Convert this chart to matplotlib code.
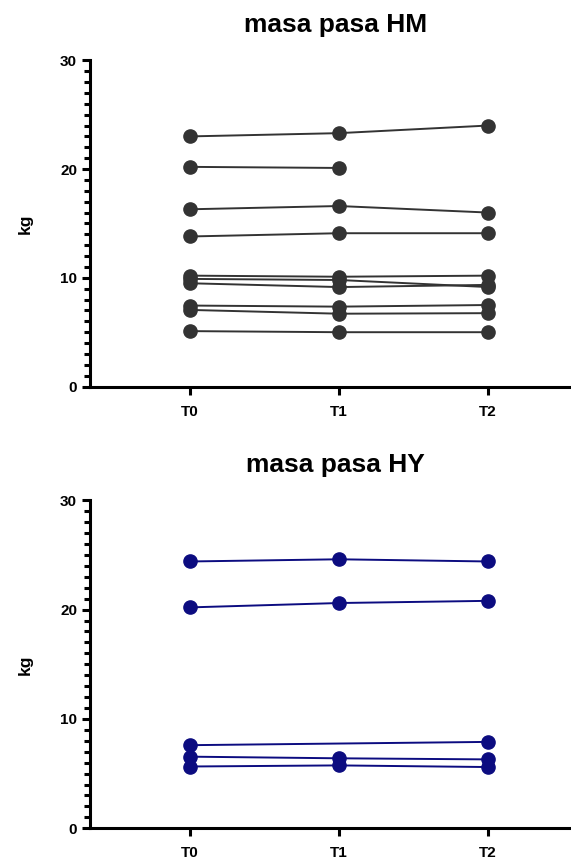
import numpy as np
import matplotlib
matplotlib.use('Agg')
import matplotlib.pyplot as plt
from matplotlib.ticker import MultipleLocator

plt.rcParams['font.family'] = ['Liberation Sans', 'DejaVu Sans']
plt.rcParams['font.weight'] = 'bold'

times = ['T0', 'T1', 'T2']

# masa pasa HM (kg), one list per subject, nan = no measurement
hm_series = [
    [23.0, 23.3, 24.0],
    [20.2, 20.1, np.nan],
    [16.3, 16.6, 16.0],
    [13.8, 14.1, 14.1],
    [10.2, 10.1, 10.2],
    [9.9, 9.8, 9.15],
    [9.5, 9.15, 9.35],
    [7.45, 7.35, 7.5],
    [7.05, 6.7, 6.75],
    [5.1, 5.0, 5.0],
]

# masa pasa HY (kg)
hy_series = [
    [24.4, 24.6, 24.4],
    [20.2, 20.6, 20.8],
    [7.6, np.nan, 7.9],
    [6.55, 6.4, 6.3],
    [5.65, 5.75, 5.6],
]

fig = plt.figure(figsize=(5.71, 8.61), dpi=100)
ax1 = fig.add_axes([0.157, 0.551, 0.86, 0.379])
ax2 = fig.add_axes([0.157, 0.038, 0.86, 0.381])


def draw(ax, series, color, title):
    x = np.arange(len(times))
    for s in series:
        s = np.array(s, dtype=float)
        ok = ~np.isnan(s)
        ax.plot(x[ok], s[ok], '-o', color=color, lw=1.4, ms=9.5, clip_on=False)
    ax.set_xlim(-0.67, 2.62)
    ax.set_ylim(0, 30)
    ax.set_xticks(x)
    ax.set_xticklabels(times)
    ax.yaxis.set_major_locator(MultipleLocator(10))
    ax.yaxis.set_minor_locator(MultipleLocator(1))
    for side in ['top', 'right']:
        ax.spines[side].set_visible(False)
    for side in ['left', 'bottom']:
        ax.spines[side].set_linewidth(2.2)
    ax.tick_params(axis='both', which='major', width=2.2, length=6,
                   labelsize=11, pad=3)
    ax.tick_params(axis='y', which='minor', width=2.2, length=4.5)
    ax.tick_params(axis='x', which='major', pad=7)
    ax.set_ylabel('kg', fontsize=12.5, fontweight='bold', labelpad=20)
    ax.set_title(title, fontsize=19, fontweight='bold', pad=20, x=0.5)


draw(ax1, hm_series, '#333333', 'masa pasa HM')
draw(ax2, hy_series, '#0c0c80', 'masa pasa HY')

fig.savefig('out.png', dpi=100)
